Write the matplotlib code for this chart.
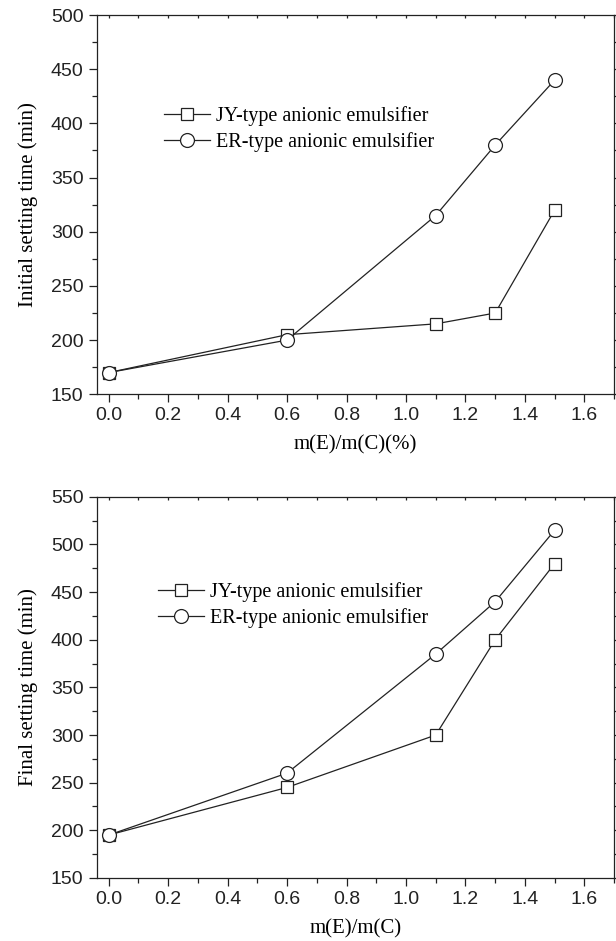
import matplotlib
matplotlib.use('Agg')
import matplotlib.pyplot as plt
from matplotlib.ticker import MultipleLocator

ratio = [0.0, 0.6, 1.1, 1.3, 1.5]

#initial setting time
jy_initial = [170, 205, 215, 225, 320]
er_initial = [170, 200, 315, 380, 440]

#final setting time
jy_final = [195, 245, 300, 400, 480]
er_final = [195, 260, 385, 440, 515]

labels = ['JY-type anionic emulsifier', 'ER-type anionic emulsifier']

serif = 'Liberation Serif'
sans = 'Liberation Sans'


def draw_panel(ax, jy, er, ylim, ylabel, xlabel, legend_xy):
    ax.plot(ratio, jy, color='#222222', linewidth=0.9, marker='s', markersize=9,
            markerfacecolor='white', markeredgecolor='#222222', markeredgewidth=0.9, label=labels[0])
    ax.plot(ratio, er, color='#222222', linewidth=0.9, marker='o', markersize=10,
            markerfacecolor='white', markeredgecolor='#222222', markeredgewidth=0.9, label=labels[1])
    ax.set_xlim(-0.04, 1.70)
    ax.set_ylim(*ylim)
    ax.xaxis.set_major_locator(MultipleLocator(0.2))
    ax.xaxis.set_minor_locator(MultipleLocator(0.1))
    ax.yaxis.set_major_locator(MultipleLocator(50))
    ax.yaxis.set_minor_locator(MultipleLocator(25))
    ax.tick_params(which='both', direction='out', width=0.9, colors='#222222')
    ax.tick_params(which='major', length=6, labelsize=14)
    ax.tick_params(which='minor', length=3.5)
    #faint ticks on the top and right spines
    ax.tick_params(axis='x', which='both', top=True, labeltop=False)
    ax.tick_params(axis='y', which='both', right=True, labelright=False)
    for lab in ax.get_xticklabels() + ax.get_yticklabels():
        lab.set_fontfamily(sans)
    for t in ax.xaxis.get_major_ticks() + ax.xaxis.get_minor_ticks():
        t.tick2line.set_markersize(2)
        t.tick2line.set_marker(3)
        t.tick2line.set_color('#888888')
    for s in ax.spines.values():
        s.set_linewidth(0.9)
        s.set_color('#222222')
    ax.set_xlabel(xlabel, fontfamily=serif, fontsize=15, labelpad=8)
    ax.set_ylabel(ylabel, fontfamily=serif, fontsize=15, labelpad=9)
    ax.legend(loc='upper left', bbox_to_anchor=legend_xy, frameon=False,
              prop={'family': serif, 'size': 14.5}, handlelength=2.3, handletextpad=0.3,
              labelspacing=0.3, borderpad=0, borderaxespad=0)


fig = plt.figure(figsize=(6.16, 9.41), dpi=100)
ax1 = fig.add_axes([0.157, 0.581, 0.84, 0.403])
ax2 = fig.add_axes([0.157, 0.067, 0.84, 0.405])

draw_panel(ax1, jy_initial, er_initial, (150, 500), 'Initial setting time (min)', 'm(E)/m(C)(%)', (0.13, 0.76))
draw_panel(ax2, jy_final, er_final, (150, 550), 'Final setting time (min)', 'm(E)/m(C)', (0.118, 0.777))

fig.savefig('out.png', dpi=100)
